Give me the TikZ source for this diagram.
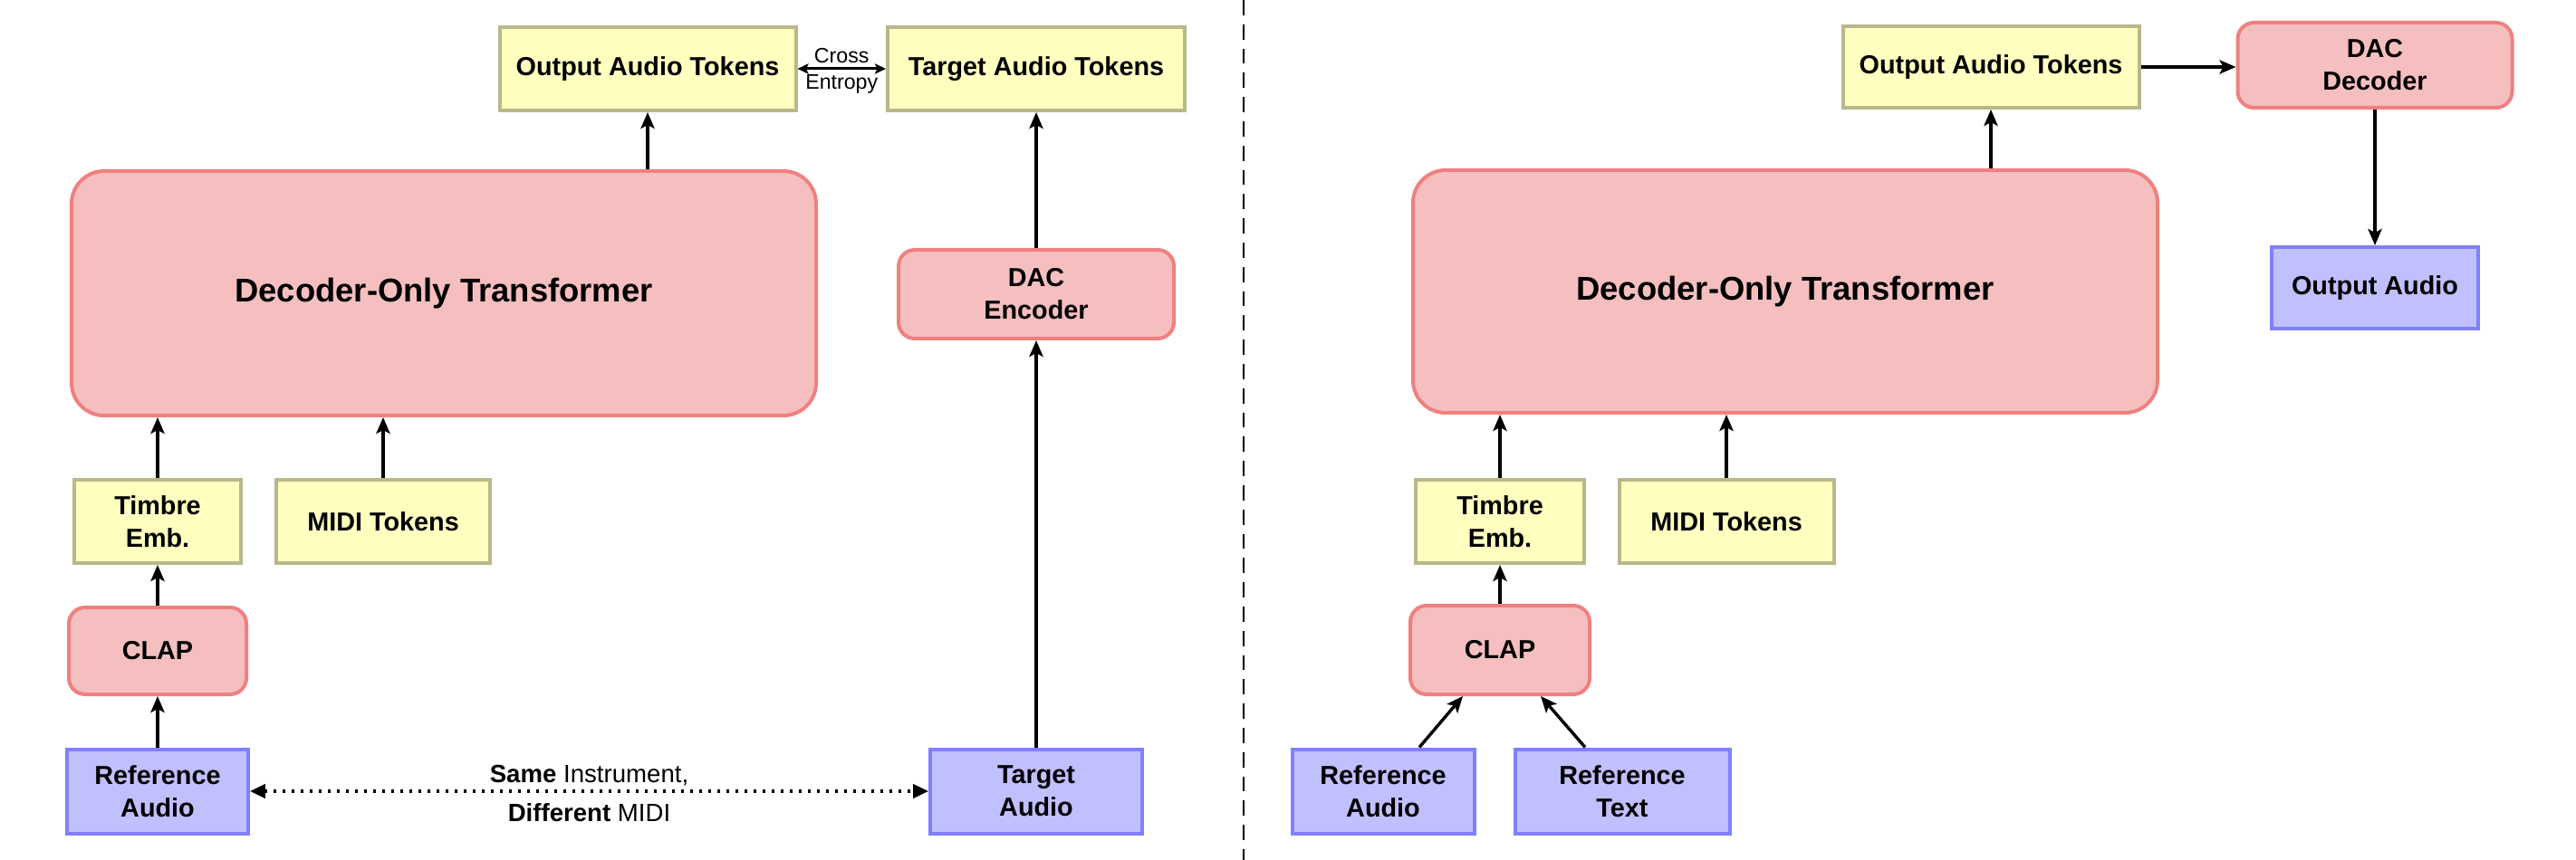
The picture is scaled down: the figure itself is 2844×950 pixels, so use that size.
\documentclass[tikz,border=0pt]{standalone}
\usepackage{fontspec}
\setmainfont{Liberation Sans}
\usetikzlibrary{arrows.meta}

\definecolor{tokfill}{RGB}{255,255,192}
\definecolor{tokline}{RGB}{184,184,138}
\definecolor{netfill}{RGB}{245,191,191}
\definecolor{netline}{RGB}{240,128,128}
\definecolor{audfill}{RGB}{192,192,255}
\definecolor{audline}{RGB}{128,128,255}

\begin{document}
\begin{tikzpicture}[x=0.25pt,y=0.25pt,yscale=-1,
    every node/.style={font=\bfseries\fontsize{7.2}{9}\selectfont, align=center, inner sep=0pt},
    tokbox/.style={draw=tokline, fill=tokfill, line width=1pt, minimum height=23pt},
    netbox/.style={draw=netline, fill=netfill, line width=1pt, rounded corners=4.5pt, minimum height=24.5pt},
    audbox/.style={draw=audline, fill=audfill, line width=1pt, minimum height=23.25pt},
    bigbox/.style={netbox, rounded corners=9pt, minimum width=205.5pt, minimum height=67.5pt,
        font=\bfseries\fontsize{9.1}{11}\selectfont},
    lbl/.style={font=\fontsize{6.9}{8}\selectfont},
    arr/.style={line width=0.85pt, -{Stealth[length=4.5pt,width=3.8pt,inset=1pt]}},
    dblarr/.style={line width=0.75pt, {Stealth[length=3pt,width=2.8pt,inset=0.6pt]}-{Stealth[length=3pt,width=2.8pt,inset=0.6pt]}},
    dotarr/.style={line width=0.8pt, dash pattern=on 0.8pt off 1.7pt, {Triangle[length=4.2pt,width=3.8pt]}-{Triangle[length=4.2pt,width=3.8pt]}},
  ]
  \useasboundingbox (0,0) rectangle (2844,950);

  % Training (left)
  \node[tokbox, minimum width=81.75pt] (oatl) at (715,76) {Output Audio Tokens};
  \node[tokbox, minimum width=82pt] (tatl) at (1144,76) {Target Audio Tokens};
  \node[bigbox] (decl) at (490,324) {Decoder-Only Transformer};
  \node[netbox, minimum width=76pt] (dacenc) at (1144,325) {DAC\\Encoder};
  \node[tokbox, minimum width=46pt] (timbl) at (174,576) {Timbre\\Emb.};
  \node[tokbox, minimum width=59pt] (midil) at (423,576) {MIDI Tokens};
  \node[netbox, minimum width=49pt, minimum height=24pt] (clapl) at (174,719) {CLAP};
  \node[audbox, minimum width=50pt] (refal) at (174,874) {Reference\\Audio};
  \node[audbox, minimum width=58.5pt] (tgta) at (1144,874) {Target\\Audio};

  \draw[arr] (decl.north -| oatl) -- (oatl.south);
  \draw[arr] (dacenc) -- (tatl);
  \draw[arr] (tgta) -- (dacenc);
  \draw[arr] (timbl.north) -- (timbl.north |- decl.south);
  \draw[arr] (midil.north) -- (midil.north |- decl.south);
  \draw[arr] (clapl) -- (timbl);
  \draw[arr] (refal) -- (clapl);
  \draw[dblarr] (oatl) -- (tatl)
    node[midway, above=1.2pt, font=\fontsize{5.8}{7}\selectfont] {Cross}
    node[midway, below=1.2pt, font=\fontsize{5.8}{7}\selectfont] {Entropy};
  \draw[dotarr] (refal) -- (tgta)
    node[midway, above=1pt, lbl] {\textbf{Same} Instrument,}
    node[midway, below=3pt, lbl] {\textbf{Different} MIDI};

  % divider
  \draw[line width=0.5pt, dash pattern=on 4.2pt off 2.5pt] (1373,0) -- (1373,950);

  % Inference (right)
  \node[tokbox, minimum width=81.75pt, minimum height=22.5pt] (oatr) at (2198,74) {Output Audio Tokens};
  \node[netbox, minimum width=75.75pt, minimum height=23.5pt] (dacdec) at (2622,72) {DAC\\Decoder};
  \node[bigbox, minimum height=67pt] (decr) at (1971,322) {Decoder-Only Transformer};
  \node[audbox, minimum width=57pt, minimum height=22.5pt] (outa) at (2622,318) {Output Audio};
  \node[tokbox, minimum width=46.5pt] (timbr) at (1656,576) {Timbre\\Emb.};
  \node[tokbox, minimum width=59.25pt] (midir) at (1906,576) {MIDI Tokens};
  \node[netbox, minimum width=49.5pt] (clapr) at (1656,718) {CLAP};
  \node[audbox, minimum width=50.25pt] (refar) at (1527,874) {Reference\\Audio};
  \node[audbox, minimum width=59.25pt] (reftx) at (1791,874) {Reference\\Text};

  \draw[arr] (decr.north -| oatr) -- (oatr.south);
  \draw[arr] (oatr.east) -- (oatr.east -| dacdec.west);
  \draw[arr] (dacdec) -- (outa);
  \draw[arr] (timbr.north) -- (timbr.north |- decr.south);
  \draw[arr] (midir.north) -- (midir.north |- decr.south);
  \draw[arr] (clapr) -- (timbr);
  \draw[arr] ([xshift=10pt]refar.north) -- ([xshift=-10.25pt]clapr.south);
  \draw[arr] ([xshift=-10.25pt]reftx.north) -- ([xshift=11.25pt]clapr.south);
\end{tikzpicture}
\end{document}
